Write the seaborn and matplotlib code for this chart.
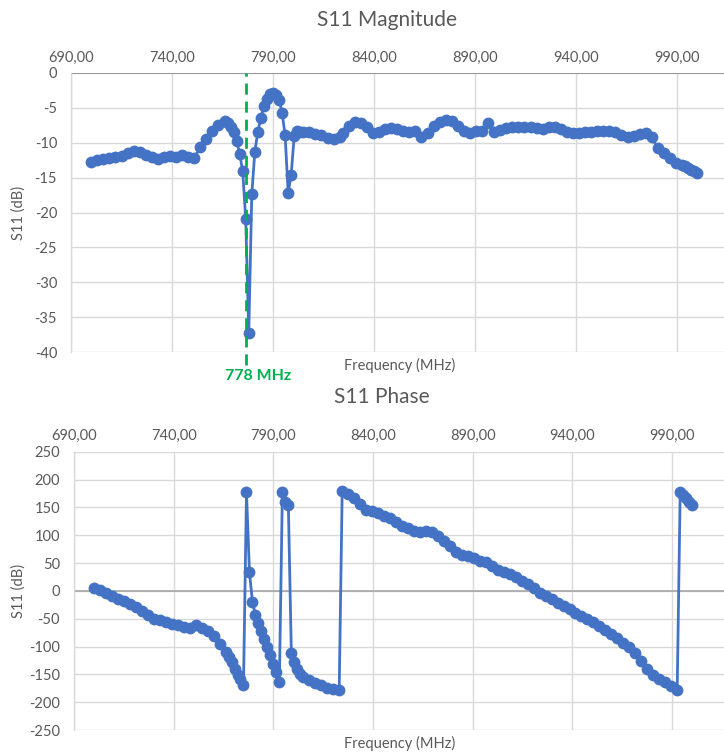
import matplotlib
matplotlib.use("Agg")
import matplotlib.pyplot as plt
from matplotlib.ticker import FuncFormatter
import pandas as pd
import seaborn as sns

# ---------------- data ----------------
freq_mhz = [
    700, 703, 706, 709, 712, 715, 718, 721, 724, 727, 730, 733, 736, 739, 742, 745, 748, 751, 754, 757, 760, 763, 766,
    767.5, 769, 770.5, 772, 773.5, 775, 776.5, 778, 779.5, 781, 782.5, 784, 785.5, 787, 788.5, 790, 791.5, 793,
    794.5, 796, 797.5, 799, 800.5, 802, 803.5, 805,
    808, 811, 814, 817, 820, 823, 824.5,
    827.5, 830.5, 833.5, 836.5, 839.5, 842.5, 845.5, 848.5, 851.5, 854.5, 857.5, 860.5, 863.5, 866.5, 869.5,
    872.5, 875.5, 878.5, 881.5, 884.5, 887.5, 890.5, 893.5, 896.5, 899.5, 902.5, 905.5, 908.5, 911.5, 914.5,
    917.5, 920.5, 923.5, 926.5, 929.5, 932.5, 935.5, 938.5, 941.5, 944.5, 947.5, 950.5, 953.5, 956.5, 959.5,
    962.5, 965.5, 968.5, 971.5, 974.5, 977.5, 980.5, 983.5, 986.5, 989.5, 992.5,
    994, 995.5, 997, 998.5, 1000,
]

s11_mag_db = [
    -12.8, -12.5, -12.3, -12.2, -12.0, -11.9, -11.5, -11.2, -11.3, -11.7, -12.1, -12.3, -12.1, -11.9, -12.0, -11.8,
    -12.1, -12.2, -10.6, -9.4, -8.3, -7.4, -6.9,
    -7.2, -7.7, -8.5, -9.7, -11.6, -14.1, -21.0, -37.3, -17.4, -11.3, -8.4, -6.4, -4.8, -3.7, -3.0, -2.8, -3.1, -3.8,
    -5.7, -8.9, -17.2, -14.6, -9.0, -8.3, -8.4, -8.5,
    -8.5, -8.7, -8.9, -9.3, -9.5, -9.2, -8.6,
    -7.6, -7.0, -7.1, -7.7, -8.6, -8.4, -8.1, -7.9, -8.1, -8.3, -8.4, -8.3, -9.2, -8.6, -7.6,
    -7.0, -6.7, -6.9, -7.6, -8.3, -8.6, -8.3, -8.3, -7.1, -8.4, -8.2, -7.9, -7.8, -7.7, -7.7,
    -7.7, -7.9, -8.1, -7.8, -7.7, -8.1, -8.5, -8.6, -8.6, -8.5, -8.4, -8.3, -8.3, -8.3, -8.5,
    -8.9, -9.2, -9.0, -8.8, -8.6, -9.2, -10.8, -11.5, -12.2, -12.9, -13.2,
    -13.4, -13.6, -13.9, -14.1, -14.4,
]

s11_phase_deg = [
    5, 2, -3, -9, -14, -18, -23, -29, -36, -43, -50, -53, -56, -59, -62, -65, -66, -62, -66, -73, -82, -95, -110,
    -118, -128, -140, -152, -158, -170, 177, 33, -20, -44, -58, -72, -86, -101, -116, -131, -146, -164,
    177, 159, 154, -112, -128, -140, -150, -155,
    -160, -165, -170, -174, -177, -178, 180,
    174, 167, 156, 145, 143, 139, 135, 130, 123, 117, 113, 108, 105, 108, 106,
    98, 90, 80, 70, 65, 62, 59, 54, 51, 44, 38, 34, 30, 24, 18,
    12, 6, -3, -10, -15, -21, -27, -33, -39, -45, -50, -56, -63, -70, -78,
    -85, -93, -101, -112, -126, -140, -151, -158, -164, -171, -179,
    177, 172, 166, 160, 155,
]

x_ticks = [690, 740, 790, 840, 890, 940, 990]
mag_ticks = [0, -5, -10, -15, -20, -25, -30, -35, -40]
phase_ticks = [250, 200, 150, 100, 50, 0, -50, -100, -150, -200, -250]
marker_freq = 776.5
marker_label = "778 MHz"

df = pd.DataFrame({"freq": freq_mhz, "mag": s11_mag_db, "phase": s11_phase_deg})

# ---------------- styling ----------------
sns.set_theme(style="white")
plt.rcParams["font.family"] = ["Lato", "DejaVu Sans"]
plt.rcParams["axes.unicode_minus"] = False

BLUE = "#4472C4"
GRID = "#d9d9d9"
TXT = "#595959"
GREEN = "#00B050"

W, H = 724, 754
fig = plt.figure(figsize=(W / 100, H / 100), dpi=100)
fig.patch.set_facecolor("white")

ax1 = fig.add_axes([71 / W, 1 - 352 / H, (W - 71) / W, 279 / H])
ax2 = fig.add_axes([74 / W, 1 - 730 / H, (W - 74) / W, 278.3 / H])

comma_fmt = FuncFormatter(lambda v, p: f"{v:.2f}".replace(".", ","))


def style(ax, yticks, ylim, xmax):
    ax.set_xlim(690, xmax)
    ax.set_ylim(*ylim)
    ax.set_xticks(x_ticks)
    ax.set_yticks(yticks)
    ax.xaxis.set_major_formatter(comma_fmt)
    ax.xaxis.tick_top()
    ax.tick_params(axis="x", top=True, labeltop=True, bottom=False, labelbottom=False,
                   length=0, pad=6, labelsize=10.5, labelcolor=TXT)
    ax.tick_params(axis="y", length=0, pad=10, labelsize=10.5, labelcolor=TXT)
    ax.grid(True, color=GRID, linewidth=1)
    ax.set_axisbelow(True)
    for s in ["top", "right", "bottom", "left"]:
        ax.spines[s].set_visible(False)
    ax.spines["left"].set_visible(True)
    ax.spines["left"].set_color(GRID)
    ax.spines["left"].set_linewidth(1)
    ax.set_xlabel("")
    ax.set_ylabel("S11 (dB)", fontsize=10.5, color=TXT)


# Magnitude
sns.lineplot(data=df, x="freq", y="mag", ax=ax1, color=BLUE, marker="o", markersize=8.5,
             markeredgewidth=0, linewidth=2, zorder=3)
style(ax1, mag_ticks, (-40, 0), 690 + (W - 71) / 2.02)
ax1.axhline(0, color="#8c8c8c", linewidth=1.2, zorder=2)
ax1.yaxis.set_label_coords(-0.07, 0.5)
ax1.axvline(marker_freq, ymin=-0.045, ymax=1, color=GREEN, linestyle=(0, (4, 2.5)),
            linewidth=2, clip_on=False, zorder=4)

# Phase
sns.lineplot(data=df, x="freq", y="phase", ax=ax2, color=BLUE, marker="o", markersize=8.5,
             markeredgewidth=0, linewidth=2, zorder=3)
style(ax2, phase_ticks, (-250, 250), 690 + (W - 74) / 1.994)
ax2.axhline(0, color="#a6a6a6", linewidth=1.2, zorder=2)
ax2.yaxis.set_label_coords(-0.075, 0.5)

# Titles, axis labels, annotation
fig.text(387 / W, 1 - 20 / H, "S11 Magnitude", ha="center", va="center", fontsize=15, color=TXT)
fig.text(382 / W, 1 - 397 / H, "S11 Phase", ha="center", va="center", fontsize=15, color=TXT)
fig.text(400 / W, 1 - 365 / H, "Frequency (MHz)", ha="center", va="center", fontsize=10.5, color=TXT)
fig.text(400 / W, 1 - 743 / H, "Frequency (MHz)", ha="center", va="center", fontsize=10.5, color=TXT)
fig.text(258 / W, 1 - 376 / H, marker_label, ha="center", va="center", fontsize=11.5,
         color=GREEN, fontweight="bold")

fig.savefig("out.png", dpi=100, facecolor="white")
